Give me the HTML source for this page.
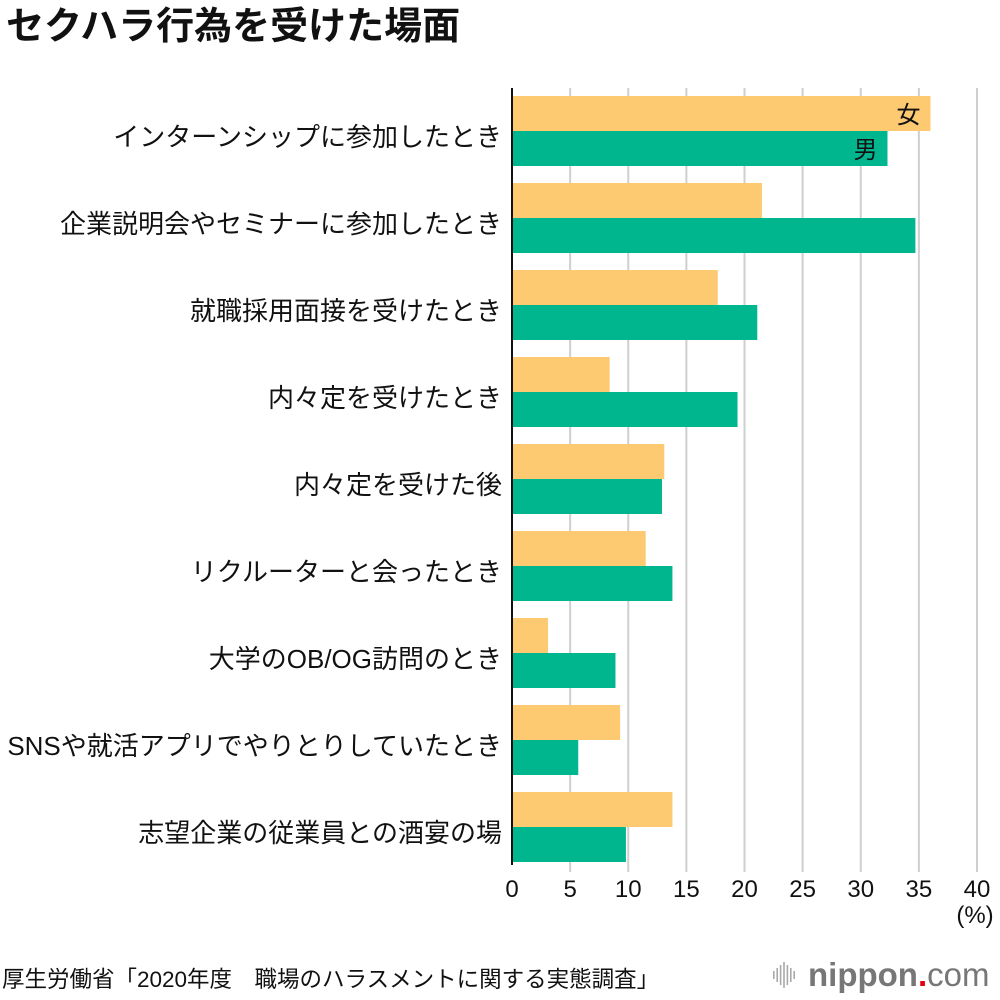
<!DOCTYPE html>
<html><head><meta charset="utf-8">
<style>
body{margin:0;background:#fff;font-family:"Liberation Sans","Noto Sans CJK JP",sans-serif;}
#wrap{position:relative;width:1000px;height:1000px;overflow:hidden;}
</style></head>
<body>
<div id="wrap">
<svg id="chart" width="1000" height="1000" style="position:absolute;left:0;top:0"></svg>
</div>
<script>
const categories=["インターンシップに参加したとき","企業説明会やセミナーに参加したとき","就職採用面接を受けたとき","内々定を受けたとき","内々定を受けた後","リクルーターと会ったとき","大学のOB/OG訪問のとき","SNSや就活アプリでやりとりしていたとき","志望企業の従業員との酒宴の場"];
const femaleValues=[36.0,21.5,17.7,8.4,13.1,11.5,3.1,9.3,13.8];
const maleValues=[32.3,34.7,21.1,19.4,12.9,13.8,8.9,5.7,9.8];
const tickLabels=[0,5,10,15,20,25,30,35,40];

const NS="http://www.w3.org/2000/svg";
const svg=document.getElementById('chart');
const x0=512,pxPer=(977-512)/40;
const xs=v=>x0+v*pxPer;
const rowTop=i=>96+i*87;
const barH=35;
function mk(tag,attrs,text){const e=document.createElementNS(NS,tag);for(const k in attrs)e.setAttribute(k,attrs[k]);if(text!==undefined)e.textContent=text;svg.appendChild(e);return e;}
const F='"Liberation Sans","Noto Sans CJK JP",sans-serif';

let t=mk('text',{x:6,y:39,'font-size':38,'font-weight':'bold','font-family':F,fill:'#111'},'セクハラ行為を受けた場面');



tickLabels.forEach(v=>{
  if(v>0){const g=mk('line',{x1:xs(v),x2:xs(v),y1:88,y2:872,stroke:'#cfcfcf','stroke-width':2});
  
  }
  const l=mk('text',{x:xs(v),y:897,'text-anchor':'middle','font-size':24,'font-family':F,fill:'#111'},String(v));
  
  
});
let u=mk('text',{x:975,y:923,'text-anchor':'middle','font-size':24,'font-family':F,fill:'#111'},'(%)');



categories.forEach((c,i)=>{
  const y=rowTop(i);
  const fb=mk('rect',{x:x0,y:y,width:xs(femaleValues[i])-x0,height:barH,fill:'#fdc971'});
  
  
  const mb=mk('rect',{x:x0,y:y+barH,width:xs(maleValues[i])-x0,height:barH,fill:'#00b68f'});
  
  
  const lab=mk('text',{x:502,y:y+barH+15,'text-anchor':'end','font-size':26,'font-family':F,fill:'#111'},c);
  
  
});
let a=mk('line',{x1:x0,x2:x0,y1:88,y2:865,stroke:'#111','stroke-width':2});



let lf=mk('text',{x:xs(femaleValues[0])-10,y:rowTop(0)+27,'text-anchor':'end','font-size':24,'font-family':F,fill:'#111'},'女');


let lm=mk('text',{x:xs(maleValues[0])-10,y:rowTop(0)+barH+27,'text-anchor':'end','font-size':24,'font-family':F,fill:'#111'},'男');



let src=mk('text',{x:2,y:987,'font-size':22.5,'font-family':F,fill:'#111'},'厚生労働省「2020年度　職場のハラスメントに関する実態調査」');



for(let k=0;k<7;k++){const hh=[8,14,20,26,20,14,8][k];
  const b=mk('rect',{x:773+k*3.4,y:975-hh/2,width:1.6,height:hh,fill:'#aaa'});
  
  }
let lg=mk('text',{x:808,y:986,'font-size':33,'font-family':F,fill:'#777','font-weight':'bold'});


const s1=document.createElementNS(NS,'tspan');s1.textContent='nippon';lg.appendChild(s1);
const s2=document.createElementNS(NS,'tspan');s2.textContent='.';s2.setAttribute('fill','#e60012');lg.appendChild(s2);
const s3=document.createElementNS(NS,'tspan');s3.textContent='com';s3.setAttribute('font-weight','normal');lg.appendChild(s3);
</script>
</body></html>
